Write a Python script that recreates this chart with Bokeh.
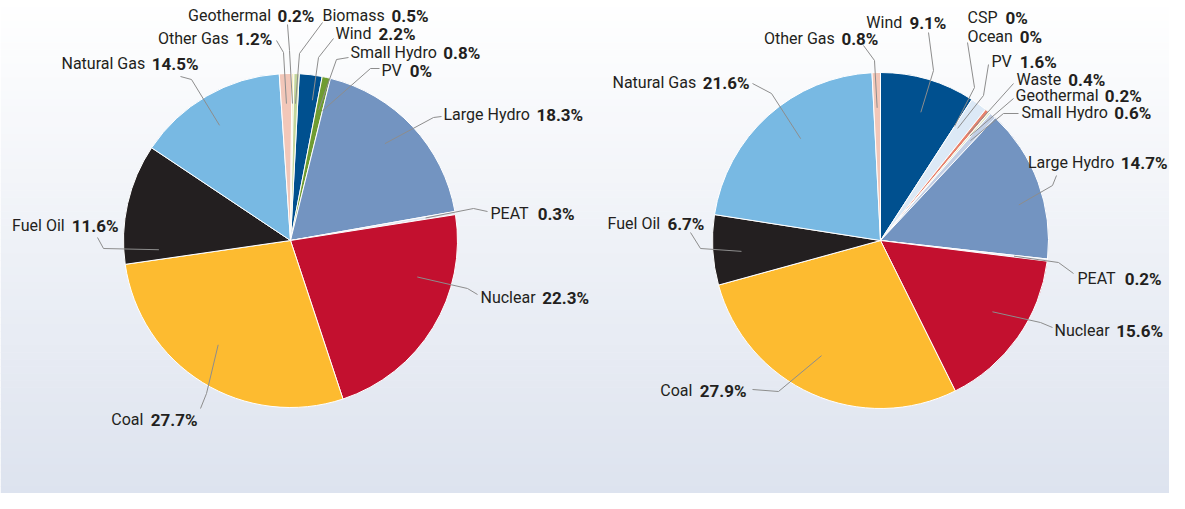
import math
from bokeh.plotting import figure
from bokeh.models import Range1d
from bokeh.embed import file_html
from bokeh.resources import INLINE
from bokeh.core.properties import value

# ---------------- data ----------------
cats_1 = ["Wind", "Small Hydro", "PV", "Large Hydro", "PEAT", "Nuclear", "Coal",
          "Fuel Oil", "Natural Gas", "Other Gas", "Geothermal", "Biomass"]
vals_1 = [2.2, 0.8, 0, 18.3, 0.3, 22.3, 27.7, 11.6, 14.5, 1.2, 0.2, 0.5]

cats_2 = ["Wind", "CSP", "Ocean", "PV", "Waste", "Geothermal", "Small Hydro",
          "Large Hydro", "PEAT", "Nuclear", "Coal", "Fuel Oil", "Natural Gas", "Other Gas"]
vals_2 = [9.1, 0, 0, 1.6, 0.4, 0.2, 0.6, 14.7, 0.2, 15.6, 27.9, 6.7, 21.6, 0.8]

# ---------------- styles ----------------
colors_1 = {"Wind": "#00508f", "Small Hydro": "#6f9c31", "PV": "#a6c8e8",
            "Large Hydro": "#7394c1", "PEAT": "#dfe6f1", "Nuclear": "#c3102f",
            "Coal": "#fdbb30", "Fuel Oil": "#231f20", "Natural Gas": "#78b9e3",
            "Other Gas": "#f2c7b9", "Geothermal": "#f6e8a8", "Biomass": "#c4d69c"}
colors_2 = {"Wind": "#00508f", "CSP": "#f6d55c", "Ocean": "#3aa6c8", "PV": "#dce9f6",
            "Waste": "#e7826c", "Geothermal": "#dfe8c6", "Small Hydro": "#c2cfe5",
            "Large Hydro": "#7394c1", "PEAT": "#dfe6f1", "Nuclear": "#c3102f",
            "Coal": "#fdbb30", "Fuel Oil": "#231f20", "Natural Gas": "#78b9e3",
            "Other Gas": "#f2c7b9"}

# label layout (page pixels): anchor side, name-left x, value-right x, text y,
# leader point near label, elbow point, position within slice, radius fraction
lay_1 = {
    "Wind":        ("L", 335, 414, 33, (333, 38), (318, 57), 0.74, 0.85),
    "Small Hydro": ("L", 350, 482, 52, (348, 57), (336, 59), 0.43, 0.80),
    "PV":          ("L", 381, 425, 70, (379, 68), (370, 68), 0.5, 0.80),
    "Large Hydro": ("L", 443, 583, 114, (441, 116), (433, 117), 0.46, 0.81),
    "PEAT":        ("L", 490, 568, 213, (487, 211), (473, 208), 0.5, 0.82),
    "Nuclear":     ("L", 480, 589, 297, (477, 294), (467, 288), 0.31, 0.79),
    "Coal":        ("R", 110, 196, 419, (200, 408), (206, 393), 0.53, 0.76),
    "Fuel Oil":    ("R", 12, 117, 225, (97, 237), (103, 248), 0.10, 0.79),
    "Natural Gas": ("R", 55, 197, 63, (180, 76), (191, 79), 0.47, 0.81),
    "Other Gas":   ("R", 155, 271, 38, (276, 40), (283, 52), 0.5, 0.82),
    "Geothermal":  ("R", 186, 313, 15, (287, 24), (289, 50), 0.5, 0.82),
    "Biomass":     ("L", 322, 428, 15, (322, 22), (299, 53), 0.5, 0.82),
}
lay_2 = {
    "Wind":        ("R", 868, 945, 22, (928, 32), (933, 70), 0.53, 0.80),
    "CSP":         ("L", 967, 1023, 17, None, None, 0.5, 0.8),
    "Ocean":       ("L", 967, 1038, 36, (967, 42), (974, 87), 0.5, 0.81),
    "PV":          ("L", 991, 1050, 61, (988, 64), (983, 95), 0.27, 0.81),
    "Waste":       ("L", 1016, 1100, 79, (1013, 83), (1013, 83), 0.5, 0.82),
    "Geothermal":  ("L", 1015, 1140, 95, (1013, 98), (1013, 98), 0.5, 0.82),
    "Small Hydro": ("L", 1021, 1148, 112, (1018, 113), (1003, 113), 0.5, 0.80),
    "Large Hydro": ("R", 1031, 1166, 162, (1056, 175), (1052, 185), 0.61, 0.85),
    "PEAT":        ("L", 1077, 1152, 278, (1073, 273), (1058, 262), 0.5, 0.80),
    "Nuclear":     ("L", 1054, 1160, 330, (1052, 327), (1040, 322), 0.45, 0.79),
    "Coal":        ("R", 662, 745, 390, (752, 389), (778, 391), 0.53, 0.77),
    "Fuel Oil":    ("R", 609, 703, 223, (690, 232), (700, 248), 0.45, 0.83),
    "Natural Gas": ("R", 612, 748, 82, (752, 83), (771, 93), 0.55, 0.77),
    "Other Gas":   ("R", 762, 877, 38, (863, 45), (874, 60), 0.5, 0.79),
}

W, H = 1169, 493
PAGE_H = 509


def Y(py):
    return PAGE_H - py


# approximate Roboto advance widths (units per 2048 em) for spacing labels
REG = {" ": 507, "A": 1336, "B": 1275, "C": 1333, "E": 1162, "F": 1130, "G": 1396,
       "H": 1427, "L": 1102, "M": 1747, "N": 1427, "O": 1377, "P": 1292, "S": 1216,
       "T": 1222, "V": 1305, "W": 1777, "a": 1089, "c": 1045, "d": 1122, "e": 1058,
       "g": 1122, "h": 1102, "i": 486, "l": 486, "m": 1751, "n": 1104, "o": 1141,
       "r": 677, "s": 1031, "t": 654, "u": 1102, "w": 1500, "y": 947}
BOLD = {"%": 1488, ".": 560}


def tw(s, fs, bold=False):
    if bold:
        return sum(BOLD.get(ch, 1150) for ch in s) / 2048.0 * fs
    return sum(REG.get(ch, 1100) for ch in s) / 2048.0 * fs


p = figure(width=W, height=H, x_range=Range1d(0, W), y_range=Range1d(PAGE_H - H, PAGE_H),
           output_backend="svg", toolbar_location=None, min_border=0)
p.axis.visible = False
p.grid.visible = False
p.outline_line_color = None
p.background_fill_color = "#ffffff"
p.border_fill_color = "#ffffff"

# background vertical gradient
top = (255, 255, 255)
bot = (220, 226, 238)
n = 70
bt, bb, bl, br, bc = [], [], [], [], []
for i in range(n):
    py0 = H * i / n
    py1 = H * (i + 1) / n
    t = (i + 0.5) / n * (H / 509.0)
    c = tuple(int(round(top[k] + (bot[k] - top[k]) * t)) for k in range(3))
    bt.append(Y(py0) + 0.5)
    bb.append(Y(py1))
    bl.append(0)
    br.append(W)
    bc.append("#%02x%02x%02x" % c)
p.quad(left=bl, right=br, top=bt, bottom=bb, fill_color=bc, line_color=None)

FONT = "Roboto"
FSN = 16
FSV = 17
GAP = 8
TXT = "#231f20"
LEAD = "#8d8d8d"


def draw_pie(cats, vals, colors, lay, cx, cy, R, offset):
    total = sum(vals)
    cum = 0.0
    wx, wy, sa, ea, fc = [], [], [], [], []
    lxs, lys = [], []
    nx, ny, nt, vx, vy, vt = [], [], [], [], [], []
    for c, v in zip(cats, vals):
        c0 = offset + cum / total * 360.0
        cum += v
        c1 = offset + cum / total * 360.0
        if v > 0:
            wx.append(cx)
            wy.append(Y(cy))
            sa.append(math.radians(90 - c1))
            ea.append(math.radians(90 - c0))
            fc.append(colors[c])
        anc, lx, rx, ty, lp, ep, frac, rf = lay[c]
        vs = f"{v:g}%"
        nw = tw(c, FSN)
        vw = tw(vs, FSV, True)
        if anc == "L":
            x_name = lx
        else:
            x_name = rx - vw - GAP - nw
        nx.append(x_name)
        ny.append(Y(ty))
        nt.append(c)
        vx.append(x_name + nw + GAP)
        vy.append(Y(ty))
        vt.append(vs)
        if lp is not None:
            a = math.radians(c0 + frac * (c1 - c0))
            r = rf * R
            sx = cx + r * math.sin(a)
            sy = Y(cy) + r * math.cos(a)
            lxs.append([lp[0], ep[0], sx])
            lys.append([Y(lp[1]), Y(ep[1]), sy])
    p.wedge(x=wx, y=wy, radius=R, start_angle=sa, end_angle=ea,
            fill_color=fc, line_color="white", line_width=1.0)
    p.multi_line(xs=lxs, ys=lys, line_color=LEAD, line_width=1.0)
    p.text(x=nx, y=ny, text=nt, text_align="left", text_baseline="middle",
           text_font=value(FONT), text_font_size=f"{FSN}px", text_color=TXT)
    p.text(x=vx, y=vy, text=vt, text_align="left", text_baseline="middle",
           text_font=value(FONT), text_font_size=f"{FSV}px", text_font_style="bold",
           text_color=TXT)


draw_pie(cats_1, vals_1, colors_1, lay_1, 290, 240, 167, 3.0)
draw_pie(cats_2, vals_2, colors_2, lay_2, 880, 240, 168, 0.0)

open("out.html", "w").write(file_html(p, INLINE))
